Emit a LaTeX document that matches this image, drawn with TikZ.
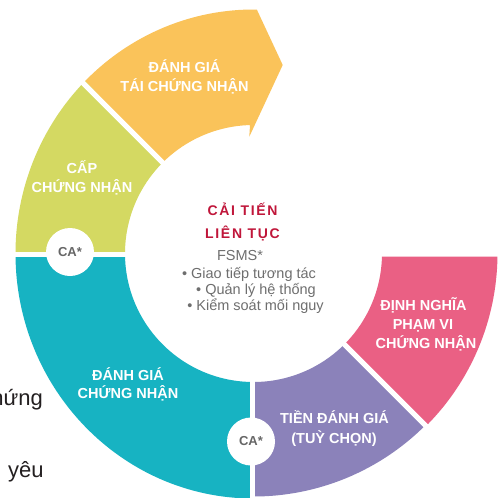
\documentclass[tikz,border=0pt]{standalone}
\usepackage{fontspec}
\setmainfont{Liberation Sans}
\newfontfamily\spacedfont[LetterSpace=12]{Liberation Sans}
\definecolor{orangec}{HTML}{FAC35A}
\definecolor{greenc}{HTML}{D4D962}
\definecolor{tealc}{HTML}{17B3C2}
\definecolor{purplec}{HTML}{8B82BA}
\definecolor{pinkc}{HTML}{EA6084}
\definecolor{redtxt}{HTML}{C0163A}
\definecolor{graytxt}{HTML}{6E6E6E}
\definecolor{calbl}{HTML}{666666}
\definecolor{darktxt}{HTML}{231F20}
\tikzset{
  lbl/.style={font=\bfseries\fontsize{14.5}{17}\selectfont, text=white, anchor=base, inner sep=0pt},
  ctitle/.style={font=\spacedfont\bfseries\fontsize{14}{16}\selectfont, text=redtxt, anchor=base, inner sep=0pt},
  ctext/.style={font=\fontsize{14.5}{17}\selectfont, text=graytxt, anchor=base, inner sep=0pt},
  cacirc/.style={circle, fill=white, minimum size=48pt, inner sep=0pt, font=\bfseries\fontsize{13}{15}\selectfont, text=calbl},
  gapline/.style={white, line width=5pt},
  sidetxt/.style={font=\fontsize{22}{26}\selectfont, text=darktxt, inner sep=0pt}
}
\begin{document}
\begin{tikzpicture}[x=1pt,y=1pt]
\useasboundingbox (0,0) rectangle (504,-498);
\clip (0,0) rectangle (504,-498);
\fill[white] (0,0) rectangle (504,-498);

\begin{scope}[shift={(253.5,-253.5)}]
  % orange arrow segment
  \fill[orangec] (135:238pt and 244pt) arc[start angle=135, end angle=89.2, x radius=238pt, y radius=244pt]
    -- (29.2,188.5) -- (-4.2,116.8) -- (91.56:128.5pt)
    arc[start angle=91.56, end angle=135, radius=128.5pt] -- cycle;
  % green segment
  \fill[greenc] (180:238pt and 244pt) arc[start angle=180, end angle=135, x radius=238pt, y radius=244pt]
    -- (135:128.5pt) arc[start angle=135, end angle=180, radius=128.5pt] -- cycle;
  % teal segment
  \fill[tealc] (180:238pt and 245pt) arc[start angle=180, end angle=270, x radius=238pt, y radius=245pt]
    -- (270:128.5pt) arc[start angle=270, end angle=180, radius=128.5pt] -- cycle;
  % purple segment
  \fill[purplec] (-45:243pt) arc[start angle=-45, end angle=-90, radius=243pt]
    -- (-90:128.5pt) arc[start angle=-90, end angle=-45, radius=128.5pt] -- cycle;
  % pink segment
  \fill[pinkc] (-1.43:128.5pt) -- (-0.75:244pt) arc[start angle=-0.75, end angle=-45, radius=244pt]
    -- (-45:128.5pt) arc[start angle=-45, end angle=-1.43, radius=128.5pt] -- cycle;
  % gaps
  \draw[gapline] (135:100pt) -- (135:262pt);
  \draw[gapline] (-45:100pt) -- (-45:262pt);
  \draw[gapline] (-262,-0.5) -- (-100,-0.5);
  \draw[gapline] (-1,-100) -- (-1,-262);
\end{scope}

% CA circles
\node[cacirc] (ca1) at (70,-252) {CA*};
\node[cacirc] (ca2) at (251,-441.5) {CA*};

% segment labels
\node[lbl] (o1) at (184.5,-72) {ĐÁNH GIÁ};
\node[lbl] (o2) at (184.5,-91) {TÁI CHỨNG NHẬN};
\node[lbl] (g1) at (82,-173) {CẤP};
\node[lbl] (g2) at (82,-192) {CHỨNG NHẬN};
\node[lbl] (t1) at (128,-380) {ĐÁNH GIÁ};
\node[lbl] (t2) at (128,-398) {CHỨNG NHẬN};
\node[lbl] (p1) at (423.5,-310) {ĐỊNH NGHĨA};
\node[lbl] (p2) at (423,-329) {PHẠM VI};
\node[lbl] (p3) at (426,-348) {CHỨNG NHẬN};
\node[lbl] (v1) at (334.5,-423) {TIỀN ĐÁNH GIÁ};
\node[lbl] (v2) at (334,-443) {(TUỲ CHỌN)};

% centre text
\node[ctitle] (c1) at (242.5,-215) {CẢI TIẾN};
\node[ctitle] (c2) at (242.5,-238) {LIÊN TỤC};
\node[ctext] (f1) at (240,-260) {FSMS*};
\node[ctext] (b1) at (249,-278) {• Giao tiếp tương tác};
\node[ctext] (b2) at (256,-294) {• Quản lý hệ thống};
\node[ctext] (b3) at (255.5,-310.5) {• Kiểm soát mối nguy};

% partial side text
\node[sidetxt, anchor=base east] (l1) at (43,-405) {chứng};
\node[sidetxt, anchor=base west] (l2) at (8,-477) {yêu};
\end{tikzpicture}
\end{document}
